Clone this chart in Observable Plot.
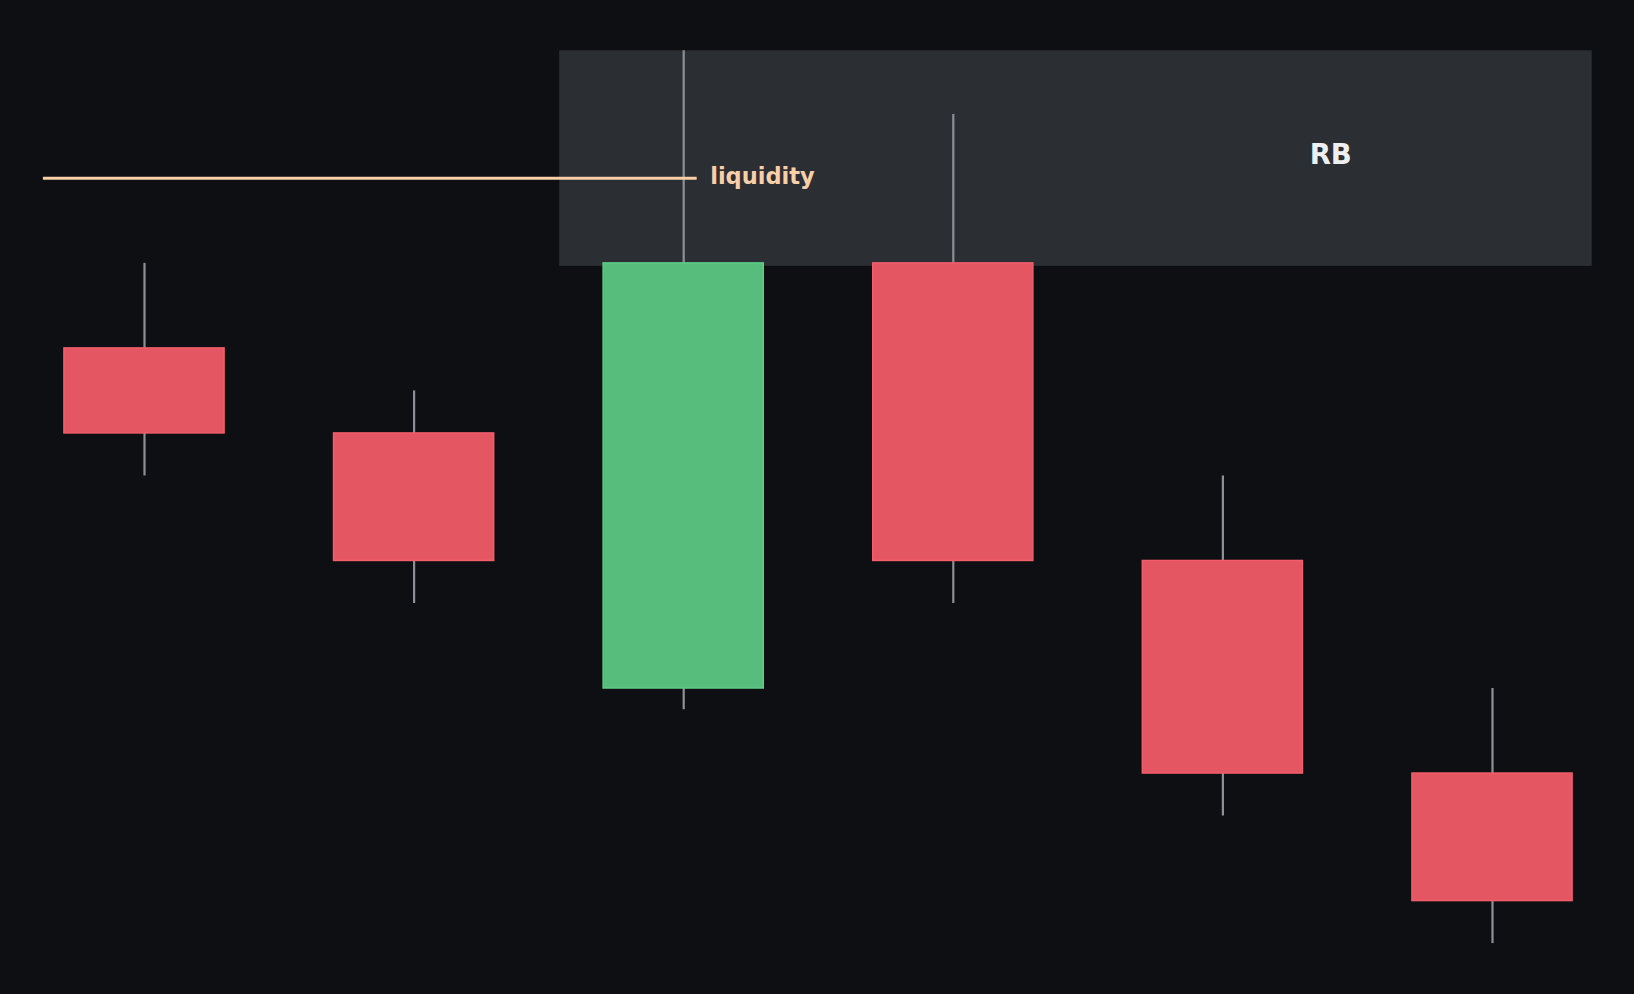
<!DOCTYPE html>
<html>
<head>
<meta charset="utf-8">
<script src="https://cdn.jsdelivr.net/npm/d3@7"></script>
<script src="https://cdn.jsdelivr.net/npm/@observablehq/plot@0.6"></script>
<style>
  html, body { margin: 0; padding: 0; background: #0e0f12; }
  #chart svg { display: block; }
</style>
</head>
<body>
<div id="chart"></div>
<script>
// Candles (index along x, price on y)
const candleIndex = [0, 1, 2, 3, 4, 5];
const opens  = [114, 112, 106, 116, 109, 104];
const closes = [112, 109, 116, 109, 104, 101];
const highs  = [116, 113, 121, 119.5, 111, 106];
const lows   = [111, 108, 105.5, 108, 103, 100];

// Liquidity level line
const liquidityLevel = [118];
const liquidityX = [-0.375, 2.05];
const liquidityLabel = ["liquidity"];

// RB zone
const zoneX = [1.54, 5.37];
const zoneY = [115.93, 121];
const zoneLabel = ["RB"];
const zoneLabelPos = [4.4, 118.55];

const candles = candleIndex.map((i, k) => ({
  i, open: opens[k], close: closes[k], high: highs[k], low: lows[k],
  up: closes[k] >= opens[k]
}));

const RED = "#e55663", RED_EDGE = "#f25d6a";
const GREEN = "#56bd7c", GREEN_EDGE = "#5fcb86";
const HALF = 0.297;

const chart = Plot.plot({
  width: 1634,
  height: 994,
  marginLeft: 9.2,
  marginRight: 7.2,
  marginTop: 7.8,
  marginBottom: 8.4,
  style: { background: "#0e0f12", fontFamily: "DejaVu Sans" },
  x: { type: "linear", domain: [-0.5, 5.5], axis: null },
  y: { type: "linear", domain: [99, 122], axis: null },
  marks: [
    Plot.rect([{x1: zoneX[0], x2: zoneX[1], y1: zoneY[0], y2: zoneY[1]}], {
      x1: "x1", x2: "x2", y1: "y1", y2: "y2", fill: "#2b2e33"
    }),
    Plot.ruleX(candles, { x: "i", y1: "low", y2: "high", stroke: "#8d9096", strokeWidth: 2.2 }),
    Plot.rect(candles, {
      x1: d => d.i - HALF, x2: d => d.i + HALF,
      y1: "open", y2: "close",
      fill: d => d.up ? GREEN : RED,
      stroke: d => d.up ? GREEN_EDGE : RED_EDGE,
      strokeWidth: 1.5
    }),
    Plot.ruleY(liquidityLevel, { x1: liquidityX[0], x2: liquidityX[1], y: d => d, stroke: "#f9cfa8", strokeWidth: 3 }),
    Plot.text(liquidityLabel, {
      x: liquidityX[1], y: liquidityLevel[0], text: d => d,
      textAnchor: "start", dx: 13, dy: -2,
      fill: "#f9cfa8", fontSize: 22.5, fontWeight: "bold"
    }),
    Plot.text(zoneLabel, {
      x: zoneLabelPos[0], y: zoneLabelPos[1], text: d => d,
      textAnchor: "middle", fill: "#eeeff1", fontSize: 27.5, fontWeight: "bold"
    })
  ]
});
document.getElementById("chart").appendChild(chart);
</script>
</body>
</html>
